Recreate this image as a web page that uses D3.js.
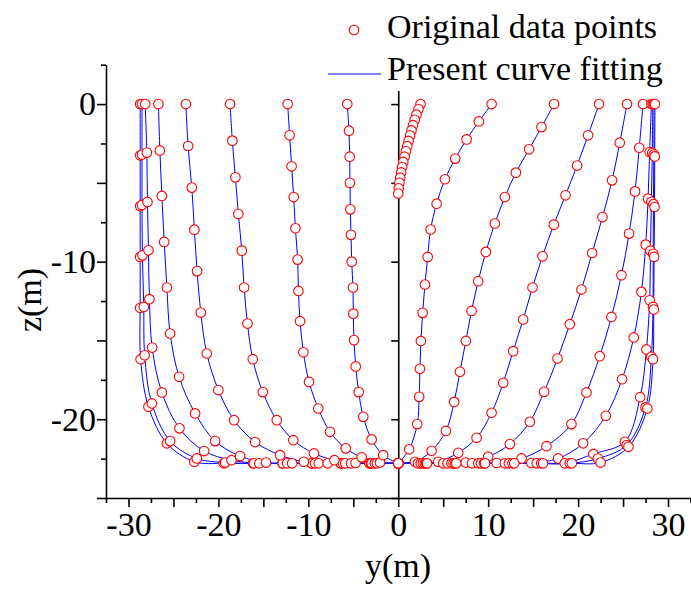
<!DOCTYPE html>
<meta charset="utf-8">
<style>
  body { margin: 0; background: #fff; }
  svg text { font-family: "Liberation Serif", "Times New Roman", serif; fill: #000; }
  .axis path, .axis line { stroke: #000; stroke-width: 1.6px; }
  .hull { fill: none; stroke: #0000ff; stroke-width: 1px; }
  .pt { fill: #fff; stroke: #ff0000; stroke-width: 1.1px; }
</style>
<body>
<script src="https://d3js.org/d3.v7.min.js"></script>
<script>
// section curves, [y, z] in metres
// aft side (negative y)
var aft0 = [[-28.7,0],[-28.7,-3.25],[-28.7,-6.47],[-28.7,-9.7],[-28.7,-12.93],[-28.65,-16.19],[-27.78,-19.21],[-25.73,-21.53],[-22.67,-22.7],[-19.4,-22.8],[-16.15,-22.8],[-12.9,-22.8],[-9.65,-22.8],[-6.4,-22.8],[-3.2,-22.8],[0,-22.8]];
var aft1 = [[-28.5,0],[-28.5,-3.2],[-28.5,-6.4],[-28.45,-9.6],[-28.3,-12.87],[-28.2,-15.94],[-27.4,-19.0],[-25.37,-21.39],[-22.4,-22.49],[-19.25,-22.75],[-16.05,-22.8],[-12.85,-22.8],[-9.6,-22.8],[-6.4,-22.8],[-3.2,-22.8],[0,-22.8]];
var aft2 = [[-28.14,0],[-27.96,-3.08],[-27.89,-6.21],[-27.78,-9.28],[-27.67,-12.38],[-27.37,-15.45],[-26.29,-18.3],[-24.33,-20.58],[-21.59,-22.02],[-18.55,-22.6],[-15.45,-22.8],[-12.35,-22.8],[-9.25,-22.8],[-6.15,-22.8],[-3.05,-22.8],[0,-22.8]];
var aft3 = [[-26.67,0],[-26.51,-2.94],[-26.29,-5.83],[-26.03,-8.75],[-25.73,-11.64],[-25.37,-14.56],[-24.37,-17.31],[-22.59,-19.63],[-20.37,-21.39],[-17.59,-22.34],[-14.7,-22.75],[-11.8,-22.8],[-8.85,-22.8],[-5.9,-22.8],[-2.95,-22.8],[0,-22.8]];
var aft4 = [[-23.62,0],[-23.37,-2.66],[-22.96,-5.3],[-22.67,-7.97],[-22.37,-10.6],[-21.96,-13.23],[-21.29,-15.83],[-20.0,-18.15],[-18.26,-20.06],[-15.92,-21.45],[-13.14,-22.28],[-10.5,-22.7],[-7.85,-22.8],[-5.25,-22.8],[-2.6,-22.8],[0,-22.8]];
var aft5 = [[-18.7,0],[-18.45,-2.32],[-18.11,-4.65],[-17.78,-6.98],[-17.4,-9.3],[-17.14,-11.64],[-16.77,-13.93],[-16.18,-16.19],[-15.07,-18.28],[-13.51,-20.06],[-11.67,-21.33],[-9.37,-22.17],[-7.1,-22.6],[-4.75,-22.78],[-2.38,-22.8],[0,-22.8]];
var aft6 = [[-12.3,0],[-12.08,-1.98],[-11.86,-3.95],[-11.63,-5.9],[-11.44,-7.88],[-11.19,-9.87],[-11.1,-11.86],[-10.92,-13.78],[-10.55,-15.75],[-9.92,-17.63],[-8.89,-19.32],[-7.59,-20.8],[-5.84,-21.85],[-4.07,-22.42],[-2.03,-22.74],[0,-22.8]];
var aft7 = [[-5.67,0],[-5.48,-1.69],[-5.4,-3.34],[-5.37,-5.0],[-5.33,-6.68],[-5.26,-8.3],[-5.18,-10.0],[-5.03,-11.64],[-5.0,-13.3],[-4.92,-14.98],[-4.73,-16.65],[-4.4,-18.28],[-3.89,-19.85],[-2.96,-21.28],[-1.67,-22.28],[0,-22.8]];
// fore side (positive y)
var stem = [[2.48,0],[2.25,-0.33],[2.02,-0.67],[1.82,-1.0],[1.64,-1.34],[1.47,-1.67],[1.31,-2.0],[1.15,-2.34],[1.0,-2.67],[0.85,-3.0],[0.7,-3.34],[0.56,-3.67],[0.43,-4.0],[0.32,-4.34],[0.22,-4.67],[0.13,-5.0],[0.05,-5.34],[0,-5.68]];
var fore1 = [[10.38,0],[8.97,-1.1],[7.6,-2.24],[6.33,-3.46],[5.19,-4.77],[4.27,-6.32],[3.6,-7.96],[3.27,-9.7],[2.97,-11.45],[2.71,-13.25],[2.52,-15.03],[2.41,-16.8],[2.33,-18.58],[2.11,-20.31],[1.22,-21.91],[0,-22.8]];
var fore2 = [[17.33,0],[15.93,-1.46],[14.55,-2.87],[13.08,-4.35],[11.86,-5.9],[10.74,-7.58],[9.74,-9.38],[8.89,-11.24],[8.15,-13.13],[7.52,-15.03],[6.86,-16.99],[6.22,-18.9],[5.3,-20.74],[3.71,-22.0],[1.86,-22.7],[0,-22.8]];
var fore3 = [[22.33,0],[21.11,-1.98],[19.89,-3.9],[18.6,-5.79],[17.3,-7.65],[16.04,-9.66],[14.93,-11.64],[13.89,-13.67],[12.78,-15.68],[11.67,-17.69],[10.38,-19.59],[8.71,-21.18],[6.67,-22.13],[4.44,-22.7],[2.2,-22.8],[0,-22.8]];
var fore4 = [[25.44,0],[24.63,-2.45],[23.78,-4.84],[22.71,-7.17],[21.56,-9.45],[20.37,-11.77],[19.08,-13.97],[17.71,-16.15],[16.22,-18.26],[14.63,-20.16],[12.41,-21.58],[10.0,-22.38],[7.5,-22.75],[5.0,-22.8],[2.5,-22.8],[0,-22.8]];
var fore5 = [[27.22,0],[26.8,-2.77],[26.33,-5.54],[25.67,-8.22],[24.82,-10.86],[23.71,-13.51],[22.41,-16.0],[20.93,-18.3],[19.26,-20.31],[16.48,-21.71],[13.71,-22.49],[10.95,-22.78],[8.2,-22.8],[5.47,-22.8],[2.73,-22.8],[0,-22.8]];
var fore6 = [[28.15,0],[27.96,-3.04],[27.78,-6.0],[27.52,-8.92],[27.04,-11.92],[26.19,-14.81],[24.89,-17.46],[23.08,-19.78],[20.56,-21.53],[17.78,-22.49],[14.8,-22.78],[11.85,-22.8],[8.9,-22.8],[5.92,-22.8],[2.96,-22.8],[0,-22.8]];
var fore7 = [[28.3,0],[28.25,-3.1],[28.15,-6.2],[28.05,-9.3],[27.96,-12.45],[27.6,-15.57],[26.9,-18.6],[25.2,-21.43],[21.7,-22.2],[18.52,-22.8],[15.4,-22.8],[12.3,-22.8],[9.2,-22.8],[6.15,-22.8],[3.1,-22.8],[0,-22.8]];
var fore8 = [[28.45,0],[28.42,-3.2],[28.38,-6.35],[28.35,-9.5],[28.33,-12.87],[28.15,-16.04],[27.5,-19.25],[25.4,-21.64],[22.2,-22.5],[19.07,-22.8],[15.9,-22.8],[12.7,-22.8],[9.55,-22.8],[6.35,-22.8],[3.2,-22.8],[0,-22.8]];
var fore9 = [[28.55,0],[28.52,-3.32],[28.5,-6.53],[28.45,-9.7],[28.41,-13.04],[28.33,-16.19],[27.7,-19.32],[25.6,-21.75],[22.5,-22.75],[19.3,-22.8],[16.1,-22.8],[12.9,-22.8],[9.65,-22.8],[6.45,-22.8],[3.2,-22.8],[0,-22.8]];

var sections = [aft0, aft1, aft2, aft3, aft4, aft5, aft6, aft7,
                stem, fore1, fore2, fore3, fore4, fore5, fore6, fore7, fore8, fore9];

var yTicks = d3.range(-32.5, 32.6, 2.5);
var yLabels = [-30, -20, -10, 0, 10, 20, 30];
var zTicks = d3.range(-25, 2.6, 2.5);
var zLabels = [-20, -10, 0];
var midTicks = [-25, -20, -15, -10, -5, 0];

var W = 691, H = 590;
var svg = d3.select("body").append("svg")
    .attr("width", W)
    .attr("height", H);

var x = d3.scaleLinear().domain([-32.5, 32.5]).range([106, 690.5]);
var z = d3.scaleLinear().domain([-25, 2.5]).range([498, 64.7]);

var isMajor = function(d) { return Math.abs(d % 5) < 1e-6; };

// bottom axis
var gx = svg.append("g")
    .attr("class", "axis")
    .attr("transform", "translate(0," + z(-25) + ")")
    .call(d3.axisBottom(x).tickValues(yTicks).tickSizeOuter(0)
        .tickFormat(function(d) { return yLabels.indexOf(d) >= 0 ? String(d) : ""; }));
gx.selectAll(".tick line").attr("y2", function(d) { return isMajor(d) ? 9 : 5; });
gx.selectAll(".tick text").attr("y", 14).style("font-size", "34px");

// left axis
var gz = svg.append("g")
    .attr("class", "axis")
    .attr("transform", "translate(" + x(-32.5) + ",0)")
    .call(d3.axisLeft(z).tickValues(zTicks).tickSizeOuter(0)
        .tickFormat(function(d) { return zLabels.indexOf(d) >= 0 ? String(d) : ""; }));
gz.selectAll(".tick line").attr("x2", function(d) { return isMajor(d) ? -9 : -5; });
gz.selectAll(".tick text").attr("x", -10).style("font-size", "34px");

// centre line at y = 0
svg.append("g")
    .attr("class", "axis")
    .attr("transform", "translate(" + x(0) + ",0)")
    .call(d3.axisLeft(z).tickValues(midTicks).tickSize(7).tickSizeOuter(0).tickFormat(""));

// fitted curves
var line = d3.line()
    .x(function(d) { return x(d[0]); })
    .y(function(d) { return z(d[1]); })
    .curve(d3.curveCatmullRom.alpha(0.5));

svg.append("g").selectAll("path")
    .data(sections)
    .enter().append("path")
    .attr("class", "hull")
    .attr("d", line);

// original points
var pts = [];
sections.forEach(function(s) { s.forEach(function(p) { pts.push(p); }); });
svg.append("g").selectAll("circle")
    .data(pts)
    .enter().append("circle")
    .attr("class", "pt")
    .attr("cx", function(d) { return x(d[0]); })
    .attr("cy", function(d) { return z(d[1]); })
    .attr("r", 4.8);

// legend
var leg = svg.append("g");
leg.append("rect")
    .attr("x", 318).attr("y", 0)
    .attr("width", W - 318).attr("height", 91)
    .attr("fill", "#fff");
leg.append("circle")
    .attr("class", "pt")
    .attr("cx", 354).attr("cy", 30).attr("r", 4.8);
leg.append("text")
    .attr("x", 387).attr("y", 38)
    .style("font-size", "34px")
    .text("Original data points");
leg.append("line")
    .attr("x1", 328).attr("x2", 381)
    .attr("y1", 74).attr("y2", 74)
    .attr("stroke", "#0000ff").attr("stroke-width", 1);
leg.append("text")
    .attr("x", 387).attr("y", 80)
    .style("font-size", "34px")
    .text("Present curve fitting");

// axis titles
svg.append("text")
    .attr("x", 398).attr("y", 577)
    .attr("text-anchor", "middle")
    .style("font-size", "34px")
    .text("y(m)");
svg.append("text")
    .attr("transform", "translate(41,300)rotate(-90)")
    .attr("text-anchor", "middle")
    .style("font-size", "34px")
    .text("z(m)");
</script>
</body>
